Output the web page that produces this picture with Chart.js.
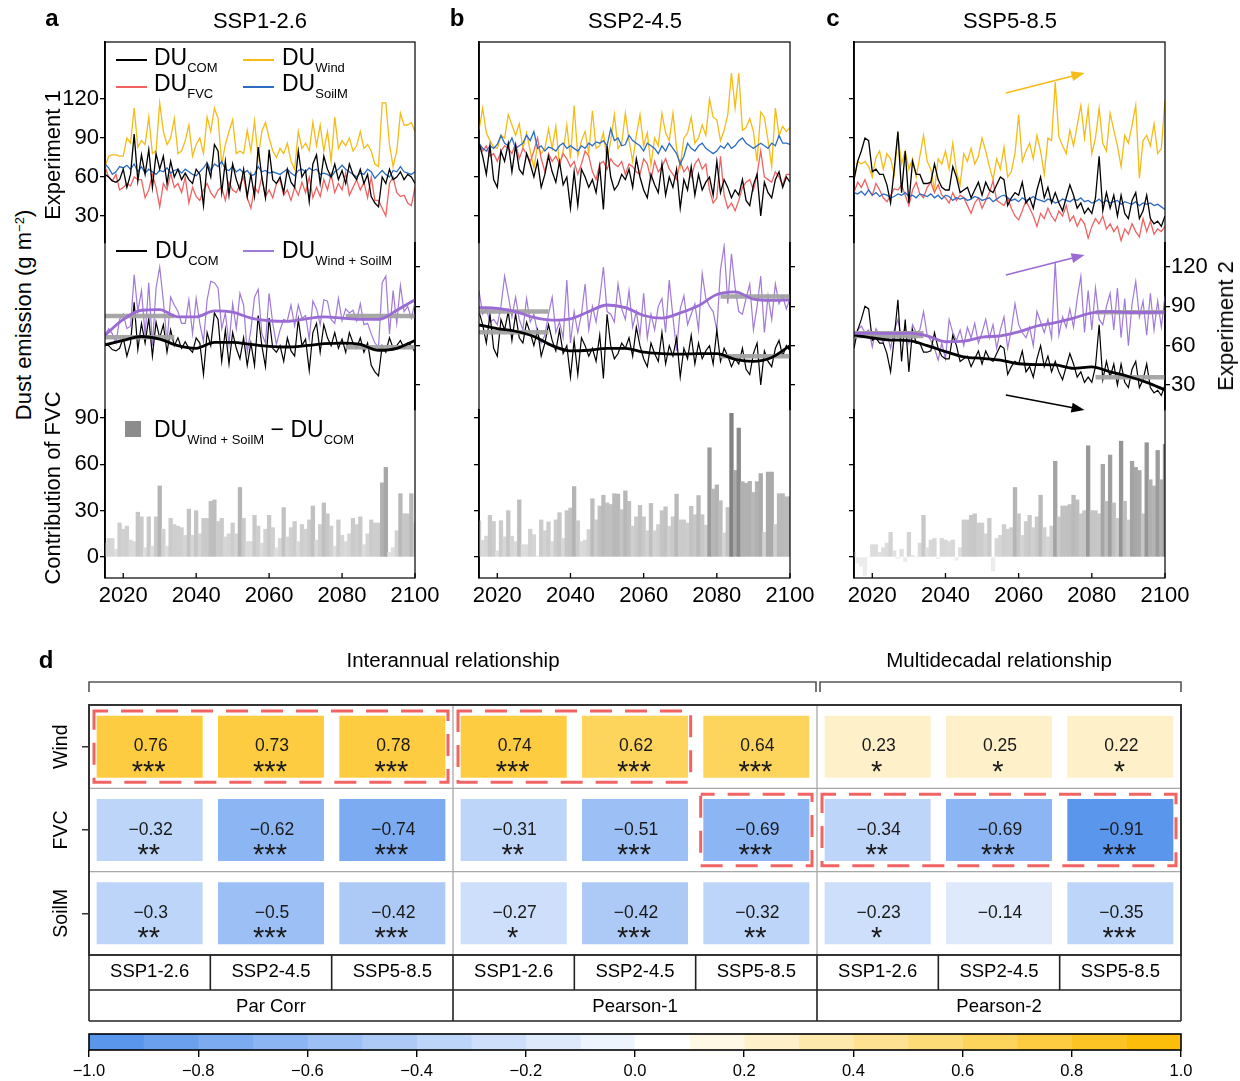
<!DOCTYPE html>
<html><head><meta charset="utf-8">
<script src="https://cdn.jsdelivr.net/npm/chart.js"></script>
<style>
body{margin:0;background:#fff;width:1240px;height:1081px;position:relative;overflow:hidden;font-family:"Liberation Sans",Arial,sans-serif;color:#000}
canvas{position:absolute}
.t{position:absolute;white-space:nowrap;line-height:1}
.s{font-size:13px;vertical-align:-6.5px}
.sw{position:absolute;height:0;width:31px}
</style></head><body>
<canvas id="pa"></canvas><canvas id="pb"></canvas><canvas id="pc"></canvas>
<canvas id="hm"></canvas><canvas id="cb"></canvas>
<script>
// ---------------- DATA ----------------
const years = Array.from({length: 86}, (_, i) => 2015 + i);
const xTicks = [2020, 2040, 2060, 2080, 2100];
const exp1Ticks = [30, 60, 90, 120];
const exp2Ticks = [30, 60, 90, 120];
const barTicks = [0, 30, 60, 90];
const smoothYears = [2015,2020,2025,2030,2035,2040,2045,2050,2055,2060,2065,2070,2075,2080,2085,2090,2095,2100];
const earlyPeriod = [2015, 2034];
const latePeriod = [2081, 2100];

// SSP1-2.6
const comA = [62,60,57,56,58,66,52,62,93,57, 77,62,81,52,78,66,76,55,72,60, 66,58,63,58,55,66,62,38,70,60, 85,80,48,72,46,70,58,50,66,45, 62,45,83,60,44,81,58,55,60,48, 66,56,52,80,60,65,41,70,77,55, 76,66,60,70,58,65,55,70,62,58, 66,55,62,45,40,37,60,55,66,58, 60,64,58,62,60,55];
const windA = [68,76,77,77,76,76,90,86,113,83, 88,85,106,78,80,117,95,85,90,105, 78,80,88,100,76,85,90,78,106,95, 113,105,70,85,95,104,78,80,78,96, 80,103,75,95,102,90,80,75,82,78, 86,72,66,95,82,86,80,102,84,100, 80,95,72,106,82,88,84,90,80,84, 95,82,85,80,70,68,117,117,85,68, 80,109,100,100,102,95];
const fvcA = [68,60,57,62,50,52,55,53,60,58, 58,44,50,62,52,37,55,50,63,52, 55,48,60,40,52,45,42,50,55,48, 44,50,52,42,56,50,48,54,60,44, 36,52,48,60,45,50,44,55,58,46, 50,42,52,46,56,48,60,44,52,45, 58,50,62,48,55,50,63,46,52,58, 50,56,44,60,42,42,36,30,55,60, 48,45,46,40,38,52];
const soilmA = [70,67,62,64,68,67,69,66,70,64, 68,63,66,64,62,65,64,67,63,65, 66,63,66,64,62,61,64,67,71,65, 70,68,72,66,65,68,64,66,63,65, 61,62,68,64,65,63,64,63,62,64, 66,63,61,65,66,64,67,65,66,62, 63,62,60,64,66,69,66,64,62,60, 63,62,66,64,59,62,65,62,60,65, 64,68,64,63,62,64];
const wsA = [68,73,69,62,80,84,73,75,114,86, 102,68,108,60,104,120,94,62,97,91, 86,77,77,95,69,96,77,63,95,109, 108,104,73,85,61,92,73,100,91,55, 72,97,103,69,62,100,77,61,72,80, 79,91,75,91,81,83,65,94,88,76, 95,94,80,77,96,79,88,85,87,79, 92,76,77,69,62,59,108,113,69,102, 77,106,86,90,81,93];
const barsA = [9,12,12,5,22,18,20,11,10,29, 26,6,26,7,26,46,18,7,25,21, 20,19,14,31,14,30,15,25,25,36, 37,23,25,13,15,22,15,45,25,10, 10,27,20,9,18,27,19,6,12,32, 13,19,23,10,21,18,24,33,11,21, 35,28,20,7,24,14,10,15,25,21, 26,8,15,24,22,22,48,58,3,6, 17,41,28,28,41,22];
const smoothWsA = [68,80,87,87.5,82,82,86.5,85.5,81,79,78.5,80.5,82,81,80,80,87,95];
const smoothComA = [60.5,64,67,65,60,58,62.5,62.5,61,59.5,59,60,61.5,62,61,56.5,58,64];
const greyWsA = [82.6, 82.6];
const greyComA = [66.4, 58.8];

// SSP2-4.5
const comB = [86,76,62,84,58,52,80,72,86,64, 84,66,62,78,70,60,72,52,62,76, 64,56,72,54,60,36,64,38,66,60, 52,58,48,68,35,84,60,50,54,62, 58,66,52,74,60,50,44,62,54,48, 70,46,60,52,66,36,58,50,68,46, 62,50,56,60,46,72,48,58,52,44, 50,46,58,42,38,54,62,30,56,48, 44,58,64,52,60,56];
const windB = [96,113,94,88,83,82,92,90,108,100, 92,101,82,94,80,67,84,78,82,97, 82,99,69,80,100,74,115,76,88,95, 78,111,82,84,94,73,88,108,82,86, 109,88,72,92,108,84,94,69,90,84, 109,94,88,109,82,68,90,94,106,86, 90,100,92,120,106,104,88,96,108,140, 113,140,96,98,105,95,72,110,106,88, 68,113,92,99,95,98];
const fvcB = [86,80,84,76,78,72,80,84,82,78, 86,74,82,78,72,80,90,74,64,78, 72,76,70,78,74,68,72,62,70,80, 76,64,58,70,72,66,74,70,68,72, 62,70,68,64,62,74,70,58,72,64, 68,74,66,62,58,72,64,68,60,70, 74,66,70,50,40,44,76,46,36,40, 34,42,52,56,58,50,62,80,60,58, 56,64,60,54,62,62];
const soilmB = [86,82,80,84,82,85,92,86,84,90, 82,84,86,92,88,95,82,84,80,83, 82,80,84,86,82,84,82,80,84,82, 86,84,87,86,88,84,97,88,90,84, 85,92,88,86,84,80,86,84,82,78, 84,80,86,82,78,70,76,86,82,80, 84,86,82,80,78,80,84,82,86,82, 84,88,90,86,84,82,84,86,84,82, 86,84,92,86,86,85];
const wsB = [102,84,88,78,80,76,90,113,98,82, 97,80,72,96,78,84,70,62,68,84, 97,70,78,66,110,62,86,70,84,107, 72,90,78,96,120,86,84,78,107,88, 80,102,74,86,68,100,66,84,72,90, 96,70,110,82,56,88,98,76,84,92, 72,115,96,90,86,72,118,136,92,130, 104,86,84,96,107,72,90,113,70,98, 80,107,92,98,88,96];
const barsB = [23.5,10.7,13.5,27,23,4,23.5,13,30,13.5, 10,37,8,8,18,14.5,0.6,24,17,22.7, 10,24,28.7,12,30,31.7,45.6,23.5,10,11, 17.8,37.7,24,33,40,35,34,41,40.7,30.6, 42.8,36,20,26,33.4,26,17,34.7,17,21, 30,32.5,20,26,40.7,24,24,22,32.8,27.4, 39.8,27.4,20.6,70.7,44,46.7,36.4,15.6,32,93, 56,83.5,48.8,47.8,49,41.8,48.8,54,16,55, 55,21,41,41,39,39];
const smoothWsB = [89,88.5,86,81.5,79.5,80.5,86,91,89,83,81,85,90.5,99,101,95.5,94.5,94.8];
const smoothComB = [75.8,73,71,67,60,56,56.5,58,58,55,54,53.6,54,54,49.5,48,51,60];
const greyWsB = [86, 97.5];
const greyComB = [70.2, 52];

// SSP5-8.5
const comC = [58,72,80,90,88,64,66,62,62,54, 40,66,95,48,80,40,72,62,62,55, 55,56,70,58,52,50,50,68,60,48, 50,52,44,50,56,46,56,50,48,54, 60,58,38,44,48,46,56,40,44,36, 50,60,44,52,40,48,40,34,44,54, 46,36,40,32,36,32,44,76,34,48, 36,46,30,46,32,28,42,48,28,34, 46,28,24,26,22,30];
const windC = [58,72,70,72,68,60,75,80,66,78, 74,62,92,70,80,66,74,60,76,92, 72,66,50,74,70,80,66,86,64,54, 78,72,82,70,76,90,80,68,58,74, 66,83,60,64,78,108,72,80,86,74, 92,80,62,90,88,133,91,84,78,96, 84,100,115,90,113,78,90,113,86,80, 109,96,84,68,92,86,100,115,59,88, 92,84,101,78,82,119];
const fvcC = [48,56,52,58,50,46,55,50,44,41, 46,51,50,54,46,38,50,56,47,44, 52,56,48,54,46,44,40,48,42,46, 44,38,32,40,44,36,42,48,57,42, 40,38,44,36,30,27,34,42,36,30, 22,32,28,36,30,26,34,30,38,26, 30,22,28,24,13,22,28,24,30,20, 24,18,22,11,20,16,24,18,14,28, 18,26,16,20,18,22];
const soilmC = [48,47,49,46,50,46,48,45,47,46, 44,45,47,46,48,45,46,44,47,46, 45,47,44,46,43,46,45,42,44,43, 44,42,43,45,44,42,43,44,41,43, 45,46,44,42,43,41,44,42,43,45, 43,42,41,43,42,40,41,43,42,41, 43,42,44,41,42,40,41,43,40,42, 40,41,42,39,41,40,39,41,38,40, 39,40,38,39,37,35];
const wsC = [67,72,75,70,72,59,73,68,62,70, 58,72,80,66,74,62,76,70,72,86, 68,64,58,49,62,50,80,70,64,72, 60,74,66,77,62,70,80,66,76,58, 72,82,58,72,92,76,70,66,74,60, 86,78,70,80,66,124,68,82,74,88, 74,96,113,70,102,72,104,80,76,90, 100,72,104,66,96,60,92,109,82,94, 68,100,72,94,74,98];
const barsC = [3,-4,-6,-12,0,8,8,3,6,9, 16,4,-1,5,-3,16,1,0,9,27, 6,11,12,-1,12,11,10,11,-2,6, 24,24,27,28,22,22,15,25,-9,12, 14,21,18,19,45,28,14,23,27,19, 26,40,19,13,20,62,26,33,33,34, 40,37,28,30,72,30,30,28,60,36, 66,35,25,75,36,24,62,58,56,28, 74,50,46,69,50,73];
const smoothWsC = [69.4,69.5,69.4,69.5,67.5,63,63.5,66.5,67.5,70.5,75,77.5,81,85,86,85.3,85.3,85.4];
const smoothComC = [68,66,64.3,63.8,60,55.5,51.5,50.3,49,46.2,45.5,45.3,42.7,43.8,40,36.5,32,26.2];
const greyWsC = [69.4, 85.4];
const greyComC = [67.4, 35.9];
const trendArrowsC = [
  {axis: 'yE1', from: [2056.5, 124.6], to: [2078, 140], color: '#f5bb16'},
  {axis: 'yE2', from: [2056.5, 113.9], to: [2078, 129.2], color: '#9a6bd2'},
  {axis: 'yE2', from: [2056.5, 22.4], to: [2078, 10.9], color: '#000000'}
];

// Panel d
const hmColumns = ['SSP1-2.6','SSP2-4.5','SSP5-8.5','SSP1-2.6','SSP2-4.5','SSP5-8.5','SSP1-2.6','SSP2-4.5','SSP5-8.5'];
const hmRows = ['Wind','FVC','SoilM'];
const hmWind = [0.76,0.73,0.78,0.74,0.62,0.64,0.23,0.25,0.22];
const hmFVC = [-0.32,-0.62,-0.74,-0.31,-0.51,-0.69,-0.34,-0.69,-0.91];
const hmSoilM = [-0.3,-0.5,-0.42,-0.27,-0.42,-0.32,-0.23,-0.14,-0.35];
const sigWind = ['***','***','***','***','***','***','*','*','*'];
const sigFVC = ['**','***','***','**','***','***','**','***','***'];
const sigSoilM = ['**','***','***','*','***','**','*','','***'];
const methodLabels = ['Par Corr','Pearson-1','Pearson-2'];
const scaleLabels = ['Interannual relationship','Multidecadal relationship'];
const highlightBoxes = [[0,0,2],[0,3,4],[1,5,5],[1,6,8]];
const cbEdges = [-1.0,-0.9,-0.8,-0.7,-0.6,-0.5,-0.4,-0.3,-0.2,-0.1,0.0,0.1,0.2,0.3,0.4,0.5,0.6,0.7,0.8,0.9,1.0];
const cbTicks = [-1.0,-0.8,-0.6,-0.4,-0.2,0.0,0.2,0.4,0.6,0.8,1.0];

// ---------------- STYLE ----------------
Chart.defaults.font.family = '"Liberation Sans", Arial, sans-serif';
Chart.defaults.color = '#000';
const C = {com:'#000000', wind:'#f5bb16', fvc:'#f06262', soilm:'#2d6cc0', ws:'#a07ad8', wsThick:'#9a6bd2', grey:'rgba(162,162,162,0.95)'};

function barGray(v){ if (v <= 0) return 'rgb(236,236,236)'; const g = Math.round(Math.max(110, 228 - 1.05*v)); return `rgb(${g},${g},${g})`; }
function heatColor(v){
  const k = Math.min(9, Math.floor(Math.abs(v)*10 + 1e-9)); const t = k/9;
  if (v >= 0) return `rgb(${Math.round(255-3*t)},${Math.round(255-65*t)},${Math.round(255-245*t)})`;
  return `rgb(${Math.round(238-147*t)},${Math.round(244-94*t)},${Math.round(254-17*t)})`;
}
function fmtNum(v){ return String(v).replace('-', '\u2212'); }
function pts(xs, ys){ return xs.map((x, i) => ({x, y: ys[i]})); }
function rangeFor(bTop, bBot, vA, pA, vB, pB){ const k = (pB-pA)/(vB-vA); return {max: vA + (bTop-pA)/k, min: vA + (bBot-pA)/k}; }
// layout: plot top 42, bottom 578; bands: exp1 42-243, exp2 243-410, bars 410-578
const R1 = rangeFor(42, 243, 120, 99, 30, 216);
const R2 = rangeFor(243, 410, 120, 267, 30, 385);
const RB = rangeFor(410, 578, 90, 418, 0, 557);

function yAxis(pos, stack, sw, w, rng, tickArr, showLabels, display){
  return {type:'linear', position:pos, stack, stackWeight:sw, weight:w, min:rng.min, max:rng.max, display,
    afterBuildTicks: s => { s.ticks = tickArr.map(v => ({value:v})); },
    afterFit: s => { s.width = 60; },
    grid:{drawOnChartArea:false, drawTicks:true, tickLength:5, color:'#000', lineWidth:1.3},
    border:{display:true, color:'#000', width:1.8},
    ticks:{display:showLabels, font:{size:22}, color:'#000', padding:1, autoSkip:false, callback: v => String(v)}
  };
}

const framePlugin = {id:'frame', afterDraw(chart){
  const {ctx, chartArea:a} = chart; const xs = chart.scales.x;
  ctx.save(); ctx.strokeStyle = '#000'; ctx.lineWidth = 1.2;
  ctx.strokeRect(a.left, a.top, a.right-a.left, a.bottom-a.top);
  ctx.lineWidth = 1.3;
  xs.ticks.forEach(t => { const px = xs.getPixelForValue(t.value); ctx.beginPath(); ctx.moveTo(px, a.bottom); ctx.lineTo(px, a.bottom-5); ctx.stroke(); });
  ctx.restore();
}};

function arrowPlugin(list){ return {id:'arrows', afterDatasetsDraw(chart){
  const ctx = chart.ctx, xs = chart.scales.x;
  ctx.save();
  list.forEach(ar => {
    const ys = chart.scales[ar.axis];
    const x0 = xs.getPixelForValue(ar.from[0]), y0 = ys.getPixelForValue(ar.from[1]);
    const x1 = xs.getPixelForValue(ar.to[0]), y1 = ys.getPixelForValue(ar.to[1]);
    const ang = Math.atan2(y1-y0, x1-x0), L = 13, Wd = 5;
    ctx.strokeStyle = ar.color; ctx.fillStyle = ar.color; ctx.lineWidth = 1.6;
    ctx.beginPath(); ctx.moveTo(x0, y0); ctx.lineTo(x1 - L*0.7*Math.cos(ang), y1 - L*0.7*Math.sin(ang)); ctx.stroke();
    ctx.beginPath(); ctx.moveTo(x1, y1);
    ctx.lineTo(x1 - L*Math.cos(ang) + Wd*Math.sin(ang), y1 - L*Math.sin(ang) - Wd*Math.cos(ang));
    ctx.lineTo(x1 - L*Math.cos(ang) - Wd*Math.sin(ang), y1 - L*Math.sin(ang) + Wd*Math.cos(ang));
    ctx.closePath(); ctx.fill();
  });
  ctx.restore();
}}; }

function makePanel(id, L, R, d, showLeft, showRight, extra){
  const cv = document.getElementById(id);
  const W = R - L + 120, H = 630;
  cv.width = W; cv.height = H;
  Object.assign(cv.style, {left:(L-60)+'px', top:'0px', width:W+'px', height:H+'px'});
  const line = (data, axis, color, w, ex) => Object.assign({type:'line', data, yAxisID:axis, xAxisID:'x', borderColor:color, borderWidth:w, pointRadius:0, tension:0, fill:false}, ex || {});
  const ds = [];
  ds.push(line(pts(years, d.com), 'yE1', C.com, 1.3));
  ds.push(line(pts(years, d.soilm), 'yE1', C.soilm, 1.3));
  ds.push(line(pts(years, d.fvc), 'yE1', C.fvc, 1.3));
  ds.push(line(pts(years, d.wind), 'yE1', C.wind, 1.3));
  ds.push(line(pts(smoothYears, d.smWs), 'yE2', C.wsThick, 2.8, {cubicInterpolationMode:'monotone'}));
  ds.push(line(pts(smoothYears, d.smCom), 'yE2', C.com, 2.8, {cubicInterpolationMode:'monotone'}));
  ds.push(line(pts(earlyPeriod, [d.greyWs[0], d.greyWs[0]]), 'yE2', C.grey, 4.5));
  ds.push(line(pts(latePeriod, [d.greyWs[1], d.greyWs[1]]), 'yE2', C.grey, 4.5));
  ds.push(line(pts(earlyPeriod, [d.greyCom[0], d.greyCom[0]]), 'yE2', C.grey, 4.5));
  ds.push(line(pts(latePeriod, [d.greyCom[1], d.greyCom[1]]), 'yE2', C.grey, 4.5));
  ds.push(line(pts(years, d.com), 'yE2', C.com, 1.2));
  ds.push(line(pts(years, d.ws), 'yE2', C.ws, 1.2));
  ds.push({type:'bar', data:pts(years, d.bars), yAxisID:'yB', xAxisID:'x', backgroundColor:d.bars.map(barGray), barPercentage:1, categoryPercentage:1, borderWidth:0});
  new Chart(cv, {type:'line', data:{datasets:ds}, options:{
    responsive:false, animation:false, devicePixelRatio:1, events:[],
    layout:{padding:{top:42, left:0, right:0, bottom:0}},
    plugins:{legend:{display:false}, tooltip:{enabled:false}},
    scales:{
      x:{type:'linear', min:2015, max:2100, offset:false,
         afterBuildTicks: s => { s.ticks = xTicks.map(v => ({value:v})); },
         afterFit: s => { s.height = 52; },
         grid:{display:false, drawTicks:false}, border:{display:false},
         ticks:{padding:5, font:{size:22}, color:'#000', maxRotation:0, autoSkip:false, callback: v => String(v)}},
      yE1: yAxis('left', 'L', 201, 3, R1, exp1Ticks, showLeft, true),
      yE2L: yAxis('left', 'L', 167, 2, R2, [], false, false),
      yB: yAxis('left', 'L', 168, 1, RB, barTicks, showLeft, true),
      yE1R: yAxis('right', 'R', 201, 1, R1, [], false, false),
      yE2: yAxis('right', 'R', 167, 2, R2, exp2Ticks, showRight, true),
      yBR: yAxis('right', 'R', 168, 3, RB, [], false, false)
    }}, plugins:[framePlugin].concat(extra || [])});
}

makePanel('pa', 105, 415, {com:comA, wind:windA, fvc:fvcA, soilm:soilmA, ws:wsA, bars:barsA, smWs:smoothWsA, smCom:smoothComA, greyWs:greyWsA, greyCom:greyComA}, true, false);
makePanel('pb', 479, 790, {com:comB, wind:windB, fvc:fvcB, soilm:soilmB, ws:wsB, bars:barsB, smWs:smoothWsB, smCom:smoothComB, greyWs:greyWsB, greyCom:greyComB}, false, false);
makePanel('pc', 854, 1165, {com:comC, wind:windC, fvc:fvcC, soilm:soilmC, ws:wsC, bars:barsC, smWs:smoothWsC, smCom:smoothComC, greyWs:greyWsC, greyCom:greyComC}, false, true, [arrowPlugin(trendArrowsC)]);

// ---------------- HEATMAP ----------------
const hmValues = [hmWind, hmFVC, hmSoilM];
const hmSig = [sigWind, sigFVC, sigSoilM];
function seg(ctx, x0, y0, x1, y1){ ctx.beginPath(); ctx.moveTo(x0, y0); ctx.lineTo(x1, y1); ctx.stroke(); }
const heatPlugin = {id:'heat', afterDraw(chart){
  const {ctx, chartArea:a, scales:{x, y}} = chart;
  const n = hmColumns.length, cw = (a.right-a.left)/n, rh = (a.bottom-a.top)/hmRows.length;
  const colL = c => a.left + c*cw, rowT = r => a.top + r*rh;
  ctx.save();
  ctx.strokeStyle = '#a8a8a8'; ctx.lineWidth = 1.3;
  seg(ctx, a.left, rowT(1), a.right, rowT(1)); seg(ctx, a.left, rowT(2), a.right, rowT(2));
  seg(ctx, colL(3), a.top, colL(3), a.bottom); seg(ctx, colL(6), a.top, colL(6), a.bottom);
  ctx.setLineDash([22, 13]); ctx.lineDashOffset = 8; ctx.strokeStyle = '#f26464'; ctx.lineWidth = 3;
  highlightBoxes.forEach(([r, c0, c1]) => ctx.strokeRect(colL(c0)+5, rowT(r)+6, colL(c1+1)-colL(c0)-10, rh-12));
  ctx.setLineDash([]);
  ctx.strokeStyle = '#333'; ctx.lineWidth = 2; ctx.strokeRect(a.left, a.top, a.right-a.left, a.bottom-a.top);
  const t1 = a.bottom + 35, t2 = a.bottom + 66;
  ctx.strokeStyle = '#222'; ctx.lineWidth = 1.6;
  seg(ctx, a.left, t1, a.right, t1); seg(ctx, a.left, t2, a.right, t2);
  for (let c = 0; c <= n; c++) seg(ctx, colL(c), a.bottom, colL(c), t1);
  [0, 3, 6, 9].forEach(c => seg(ctx, colL(c), t1, colL(c), t2));
  ctx.fillStyle = '#000'; ctx.textAlign = 'center'; ctx.textBaseline = 'middle';
  ctx.font = '18.5px "Liberation Sans"';
  methodLabels.forEach((m, i) => ctx.fillText(m, (colL(3*i)+colL(3*i+3))/2, (t1+t2)/2 + 1));
  ctx.font = '20.5px "Liberation Sans"';
  ctx.fillText(scaleLabels[0], (colL(0)+colL(6))/2, a.top - 44);
  ctx.fillText(scaleLabels[1], (colL(6)+colL(9))/2, a.top - 44);
  ctx.strokeStyle = '#555'; ctx.lineWidth = 1.6;
  const br = (x0, x1, yb) => { ctx.beginPath(); ctx.moveTo(x0, yb+10); ctx.lineTo(x0, yb); ctx.lineTo(x1, yb); ctx.lineTo(x1, yb+10); ctx.stroke(); };
  br(colL(0), colL(6)-1, a.top - 23); br(colL(6)+3, colL(9), a.top - 23);
  ctx.font = '19.5px "Liberation Sans"';
  hmRows.forEach((lab, r) => { const cy = y.getPixelForValue(r); ctx.save(); ctx.translate(a.left - 27, cy); ctx.rotate(-Math.PI/2); ctx.fillText(lab, 0, 0); ctx.restore(); });
  ctx.fillStyle = '#1a1a1a';
  hmValues.forEach((vals, r) => vals.forEach((v, c) => {
    const cx = x.getPixelForValue(c), cy = y.getPixelForValue(r);
    ctx.font = '17.5px "Liberation Sans"'; ctx.textBaseline = 'middle';
    ctx.fillText(fmtNum(v), cx + 1, cy);
    ctx.font = '29px "Liberation Sans"'; ctx.textBaseline = 'alphabetic';
    ctx.fillText(hmSig[r][c], cx - 1, cy + 34);
  }));
  ctx.restore();
}};
(function(){
  const cv = document.getElementById('hm'); cv.width = 1240; cv.height = 400;
  Object.assign(cv.style, {left:'0px', top:'640px', width:'1240px', height:'400px'});
  new Chart(cv, {type:'bar', data:{labels:hmColumns, datasets: hmValues.map((vals, r) => ({
      data: vals.map(() => [r - 0.372, r + 0.372]), backgroundColor: vals.map(heatColor),
      grouped:false, barPercentage:0.874, categoryPercentage:1, borderWidth:0}))},
    options:{responsive:false, animation:false, devicePixelRatio:1, events:[],
      layout:{padding:{top:65, left:0, right:59, bottom:0}},
      plugins:{legend:{display:false}, tooltip:{enabled:false}},
      scales:{
        x:{type:'category', grid:{display:false, drawTicks:false}, border:{display:false},
           afterFit: s => { s.height = 85; },
           ticks:{padding:6, font:{size:18.5}, color:'#000', maxRotation:0, autoSkip:false}},
        y:{type:'linear', min:-0.5, max:2.5, reverse:true,
           afterBuildTicks: s => { s.ticks = hmRows.map((_, i) => ({value:i})); },
           afterFit: s => { s.width = 89; },
           grid:{drawOnChartArea:false, drawTicks:true, tickLength:7, color:'#333', lineWidth:1.5},
           border:{display:false}, ticks:{callback: () => '', padding:0}}
      }}, plugins:[heatPlugin]});
})();

// ---------------- COLORBAR ----------------
const cbFrame = {id:'cbframe', afterDraw(chart){ const {ctx, chartArea:a} = chart; ctx.save(); ctx.strokeStyle = '#000'; ctx.lineWidth = 1.6; ctx.strokeRect(a.left, a.top, a.right-a.left, a.bottom-a.top); ctx.restore(); }};
(function(){
  const cv = document.getElementById('cb'); cv.width = 1240; cv.height = 56;
  Object.assign(cv.style, {left:'0px', top:'1025px', width:'1240px', height:'56px'});
  const ds = cbEdges.slice(0, -1).map((lo, i) => ({data:[[lo, cbEdges[i+1]]], backgroundColor: heatColor((lo + cbEdges[i+1])/2), grouped:false, barPercentage:1, categoryPercentage:1, borderWidth:0}));
  new Chart(cv, {type:'bar', data:{labels:['cb'], datasets:ds},
    options:{indexAxis:'y', responsive:false, animation:false, devicePixelRatio:1, events:[],
      layout:{padding:{top:9, left:89, right:59, bottom:0}},
      plugins:{legend:{display:false}, tooltip:{enabled:false}},
      scales:{
        x:{type:'linear', min:-1, max:1,
           afterBuildTicks: s => { s.ticks = cbTicks.map(v => ({value:v})); },
           afterFit: s => { s.height = 31; },
           grid:{drawOnChartArea:false, drawTicks:true, tickLength:7, color:'#000', lineWidth:1.4},
           border:{display:false},
           ticks:{padding:5, font:{size:16.5}, color:'#000', maxRotation:0, autoSkip:false,
             callback: v => { const z = Math.abs(v) < 1e-9 ? 0 : v; return z.toFixed(1).replace('-', '\u2212'); }}},
        y:{display:false}
      }}, plugins:[cbFrame]});
})();

// ---------------- HTML TEXT ----------------
function txt(html, x, y, size, opt){
  opt = opt || {};
  const d = document.createElement('div'); d.className = 't'; d.innerHTML = html;
  d.style.fontSize = size + 'px'; if (opt.bold) d.style.fontWeight = 'bold';
  d.style.left = x + 'px'; d.style.top = y + 'px';
  if (opt.rot) { d.style.transformOrigin = '0 0'; d.style.transform = 'rotate(-90deg) translate(-50%,-50%)'; }
  else if (opt.center) d.style.transform = 'translate(-50%,-50%)';
  document.body.appendChild(d);
}
function legendText(html, x, baseline){ txt(html, x, baseline - 0.8465*23, 23); }
function swatch(x, y, color){ const d = document.createElement('div'); d.className = 'sw'; d.style.left = x+'px'; d.style.top = (y-1)+'px'; d.style.borderTop = '2px solid ' + color; document.body.appendChild(d); }

txt('a', 52, 18, 24, {bold:true, center:true});
txt('b', 457, 18, 24, {bold:true, center:true});
txt('c', 833, 18, 24, {bold:true, center:true});
txt('d', 46, 660, 24, {bold:true, center:true});
txt('SSP1-2.6', 260, 21, 22, {center:true});
txt('SSP2-4.5', 635, 21, 22, {center:true});
txt('SSP5-8.5', 1010, 21, 22, {center:true});
txt('Experiment 1', 53, 155, 22, {rot:true});
txt('Dust emission (g m<span style="font-size:13px;vertical-align:7px">\u22122</span>)', 24, 315, 22, {rot:true});
txt('Contribution of FVC', 53, 488, 22, {rot:true});
txt('Experiment 2', 1226, 326, 22, {rot:true});

swatch(116, 60, C.com); legendText('DU<span class="s">COM</span>', 154, 65);
swatch(243, 60, C.wind); legendText('DU<span class="s">Wind</span>', 282, 65);
swatch(116, 87, C.fvc); legendText('DU<span class="s">FVC</span>', 154, 91);
swatch(243, 87, C.soilm); legendText('DU<span class="s">SoilM</span>', 282, 91);
swatch(116, 251, C.com); legendText('DU<span class="s">COM</span>', 155, 258);
swatch(243, 251, C.ws); legendText('DU<span class="s">Wind + SoilM</span>', 282, 258);
(function(){ const d = document.createElement('div'); Object.assign(d.style, {position:'absolute', left:'125px', top:'421px', width:'16px', height:'16px', background:'#8c8c8c'}); document.body.appendChild(d); })();
legendText('DU<span class="s">Wind + SoilM</span> \u2212 DU<span class="s">COM</span>', 154, 437);
</script>
</body></html>
